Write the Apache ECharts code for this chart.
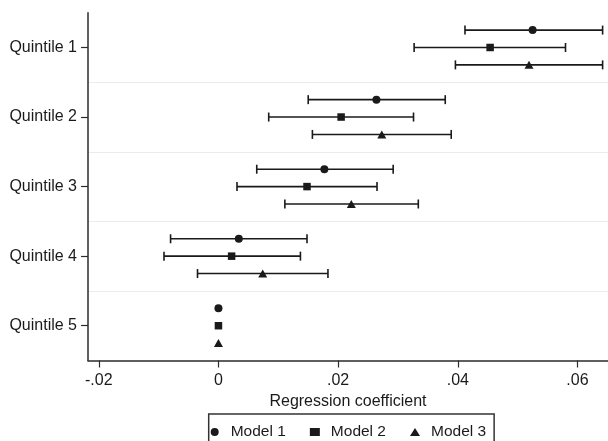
<!doctype html>
<html>
<head>
<meta charset="UTF-8">
<title>Regression coefficient by quintile</title>
<style>
  html, body { margin: 0; padding: 0; background: #fff; }
  #chart { width: 608px; height: 441px; }
</style>
</head>
<body>
<div id="chart"></div>
<script src="https://cdn.jsdelivr.net/npm/echarts@6/dist/echarts.min.js"></script>
<script>
// categories (top to bottom)
var categories = ['Quintile 1', 'Quintile 2', 'Quintile 3', 'Quintile 4', 'Quintile 5'];
var modelNames = ['Model 1', 'Model 2', 'Model 3'];

// point estimates and 95% CI per quintile (Quintile 5 is the reference, no CI)
var model1Coef = [0.0525, 0.0264, 0.0177, 0.0034, 0];
var model1Low  = [0.0412, 0.0150, 0.0064, -0.0080, null];
var model1High = [0.0642, 0.0379, 0.0292, 0.0148, null];

var model2Coef = [0.0454, 0.0205, 0.0148, 0.0022, 0];
var model2Low  = [0.0327, 0.0084, 0.0031, -0.0091, null];
var model2High = [0.0580, 0.0326, 0.0265, 0.0137, null];

var model3Coef = [0.0519, 0.0273, 0.0222, 0.0074, 0];
var model3Low  = [0.0396, 0.0157, 0.0111, -0.0035, null];
var model3High = [0.0642, 0.0389, 0.0334, 0.0183, null];

// x axis ticks
var xTicks = [-0.02, 0, 0.02, 0.04, 0.06];
var xTickLabels = ['-.02', '0', '.02', '.04', '.06'];

var coefs = [model1Coef, model2Coef, model3Coef];
var lows = [model1Low, model2Low, model3Low];
var highs = [model1High, model2High, model3High];
var symbols = ['circle', 'rect', 'triangle'];
var symbolSizes = [8, 7.5, [9, 8]];
var offsets = [-0.25, 0, 0.25];

var ink = '#1a1a1a';
var font = "'Liberation Sans', Arial, sans-serif";

var series = [];

// error bars
var barData = [];
for (var m = 0; m < 3; m++) {
  for (var i = 0; i < categories.length; i++) {
    if (lows[m][i] == null) continue;
    barData.push([lows[m][i], highs[m][i], i + 1 + offsets[m]]);
  }
}
series.push({
  type: 'custom',
  silent: true,
  z: 2,
  data: barData,
  encode: { x: [0, 1], y: 2 },
  renderItem: function (params, api) {
    var a = api.coord([api.value(0), api.value(2)]);
    var b = api.coord([api.value(1), api.value(2)]);
    var cap = 4.5;
    var style = { stroke: ink, lineWidth: 1.6, fill: null };
    return {
      type: 'group',
      children: [
        { type: 'line', shape: { x1: a[0], y1: a[1], x2: b[0], y2: b[1] }, style: style },
        { type: 'line', shape: { x1: a[0], y1: a[1] - cap, x2: a[0], y2: a[1] + cap }, style: style },
        { type: 'line', shape: { x1: b[0], y1: b[1] - cap, x2: b[0], y2: b[1] + cap }, style: style }
      ]
    };
  },
  markLine: {
    silent: true,
    symbol: ['none', 'none'],
    label: { show: false },
    z: 0,
    lineStyle: { color: '#ececec', width: 1, type: 'solid' },
    data: [{ yAxis: 1.5 }, { yAxis: 2.5 }, { yAxis: 3.5 }, { yAxis: 4.5 }]
  }
});

// point estimates
for (var k = 0; k < 3; k++) {
  var pts = [];
  for (var j = 0; j < categories.length; j++) {
    pts.push([coefs[k][j], j + 1 + offsets[k]]);
  }
  series.push({
    name: modelNames[k],
    type: 'scatter',
    symbol: symbols[k],
    symbolSize: symbolSizes[k],
    itemStyle: { color: ink, opacity: 1 },
    z: 3,
    data: pts
  });
}

var option = {
  animation: false,
  backgroundColor: '#fff',
  textStyle: { fontFamily: font },
  grid: { left: 88, right: 0, top: 12.7, bottom: 80.5 },
  xAxis: {
    type: 'value',
    z: 5,
    min: -0.0218,
    max: 0.0651,
    name: 'Regression coefficient',
    nameLocation: 'middle',
    nameGap: 26,
    nameTextStyle: { color: ink, fontSize: 16, fontFamily: font },
    axisLine: { show: true, onZero: false, lineStyle: { color: '#2b2b2b', width: 1.5 } },
    axisTick: { show: true, length: 7, customValues: xTicks, lineStyle: { color: '#2b2b2b', width: 1.2 } },
    axisLabel: {
      customValues: xTicks,
      margin: 12,
      color: ink,
      fontSize: 16,
      fontFamily: font,
      formatter: function (v) {
        for (var i = 0; i < xTicks.length; i++) {
          if (Math.abs(xTicks[i] - v) < 1e-9) return xTickLabels[i];
        }
        return '';
      }
    },
    splitLine: { show: false }
  },
  yAxis: {
    type: 'value',
    z: 5,
    inverse: true,
    min: 0.5,
    max: 5.5,
    axisLine: { show: true, onZero: false, lineStyle: { color: '#2b2b2b', width: 1.5 } },
    axisTick: { show: true, length: 7, customValues: [1, 2, 3, 4, 5], lineStyle: { color: '#2b2b2b', width: 1.2 } },
    axisLabel: {
      customValues: [1, 2, 3, 4, 5],
      margin: 11,
      color: ink,
      fontSize: 16,
      fontFamily: font,
      formatter: function (v) { return categories[Math.round(v) - 1] || ''; }
    },
    splitLine: { show: false }
  },
  legend: {
    data: modelNames,
    left: 208.7,
    top: 414,
    orient: 'horizontal',
    itemWidth: 10,
    itemHeight: 8,
    itemGap: 24,
    padding: [10, 8, 20, 2],
    borderColor: '#333',
    borderWidth: 1.5,
    backgroundColor: '#fff',
    textStyle: { color: ink, fontSize: 15.5, fontFamily: font, padding: [0, 0, 0, 6] }
  },
  series: series
};

var myChart = echarts.init(document.getElementById('chart'));
myChart.setOption(option);
</script>
</body>
</html>
